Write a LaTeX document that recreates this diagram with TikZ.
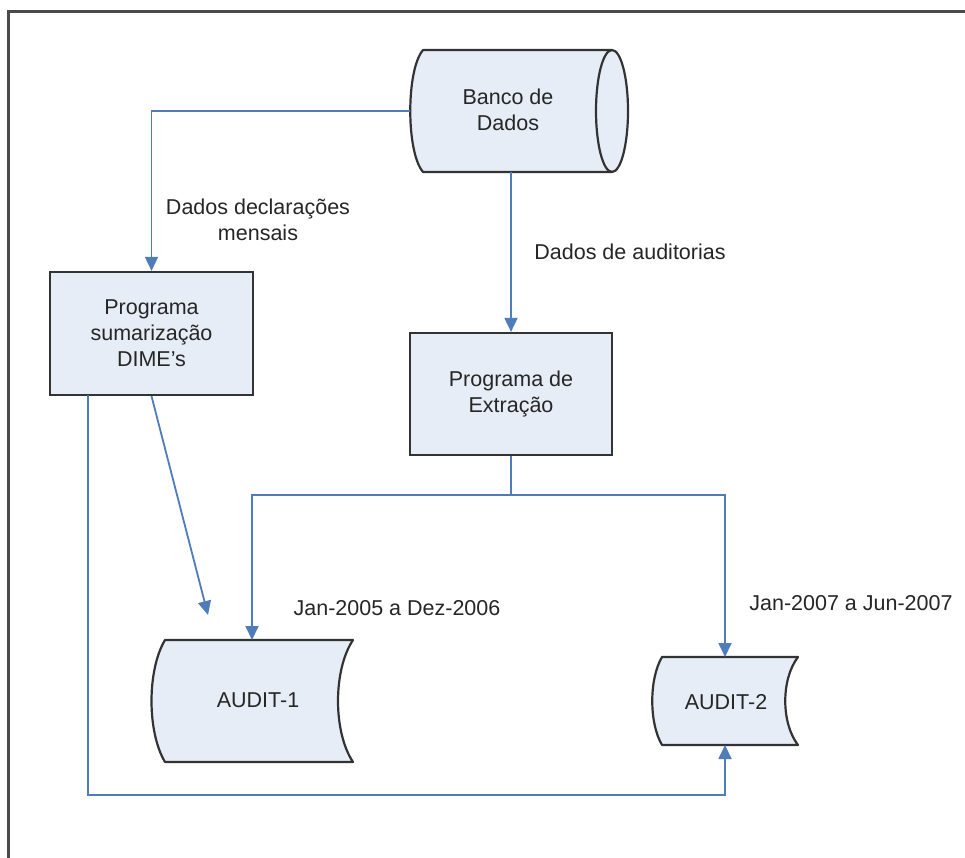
\documentclass[tikz,border=0pt]{standalone}
\usepackage{fontspec}
\setmainfont{Liberation Sans}
\usetikzlibrary{arrows.meta}
\definecolor{fillc}{HTML}{E7EDF6}
\definecolor{linec}{HTML}{4F7DBA}
\definecolor{edgec}{HTML}{333333}
\definecolor{framec}{HTML}{4A4A4A}
\begin{document}
\begin{tikzpicture}[x=1pt,y=-1pt,
  txt/.style={font=\fontsize{21.5}{26}\selectfont, text=black!85, align=center, inner sep=0pt},
  procbox/.style={draw=edgec, line width=2.2pt, fill=fillc, align=center, inner sep=0pt,
    font=\fontsize{21.5}{26}\selectfont, text=black!85},
  shapeline/.style={draw=edgec, line width=2.2pt, fill=fillc, line join=round},
  conn/.style={draw=linec, line width=1.8pt},
  arr/.style={conn, -{Triangle[width=13pt,length=14pt]}}]
\useasboundingbox (0,0) rectangle (965,858);
\fill[white] (0,0) rectangle (965,858);
\draw[framec, line width=3pt] (8,858) -- (8,12) -- (965,12);

% Banco de Dados (cylinder)
\draw[shapeline] (423,50) -- (612,50) arc[start angle=-90,end angle=90,x radius=16,y radius=61]
  -- (423,172) .. controls (406,152) and (406,70) .. (423,50) -- cycle;
\draw[edgec, line width=2.2pt] (612,50) arc[start angle=-90,end angle=-270,x radius=16,y radius=61];
\node[txt] (banco) at (508,110) {Banco de\\Dados};
\coordinate (bancoL) at (410,111);
\coordinate (bancoB) at (511,172);

% Process boxes
\node[procbox, minimum width=203pt, minimum height=123pt] (sum) at (151.5,333.5)
  {Programa\\sumarização\\DIME’s};
\node[procbox, minimum width=202pt, minimum height=122pt] (ext) at (511,394)
  {Programa de\\Extração};
\coordinate (sumBL) at (88,395);

% AUDIT-1
\draw[shapeline] (165,640) -- (353,640) .. controls (333,670) and (333,732) .. (353,762)
  -- (165,762) .. controls (147,732) and (147,670) .. (165,640) -- cycle;
\node[txt] (audit1) at (258,700) {AUDIT-1};
\coordinate (a1T) at (252,640);

% AUDIT-2
\draw[shapeline] (662,657) -- (798,657) .. controls (781,679) and (781,723) .. (798,745)
  -- (662,745) .. controls (649,723) and (649,679) .. (662,657) -- cycle;
\node[txt] (audit2) at (726,702) {AUDIT-2};
\coordinate (a2T) at (725,657);
\coordinate (a2B) at (725,745);

% Connectors
\draw[arr] (bancoL) -| (sum.north);
\draw[arr] (bancoB) -- (ext.north);
\coordinate (split) at (511,495);
\draw[conn] (ext.south) -- (split);
\draw[arr] (split) -| (a1T);
\draw[arr] (split) -| (a2T);
\coordinate (loop) at (88,795);
\draw[arr] (sumBL) -- (loop) -| (a2B);
\coordinate (diagEnd) at (208,615);
\draw[arr] (sum.south) -- (diagEnd);

% Labels
\node[txt] (lbl1) at (258,220) {Dados declarações\\mensais};
\node[txt] (lbl2) at (630,252) {Dados de auditorias};
\node[txt] (lbl3) at (397,608) {Jan-2005 a Dez-2006};
\node[txt] (lbl4) at (851,603) {Jan-2007 a Jun-2007};
\end{tikzpicture}
\end{document}
